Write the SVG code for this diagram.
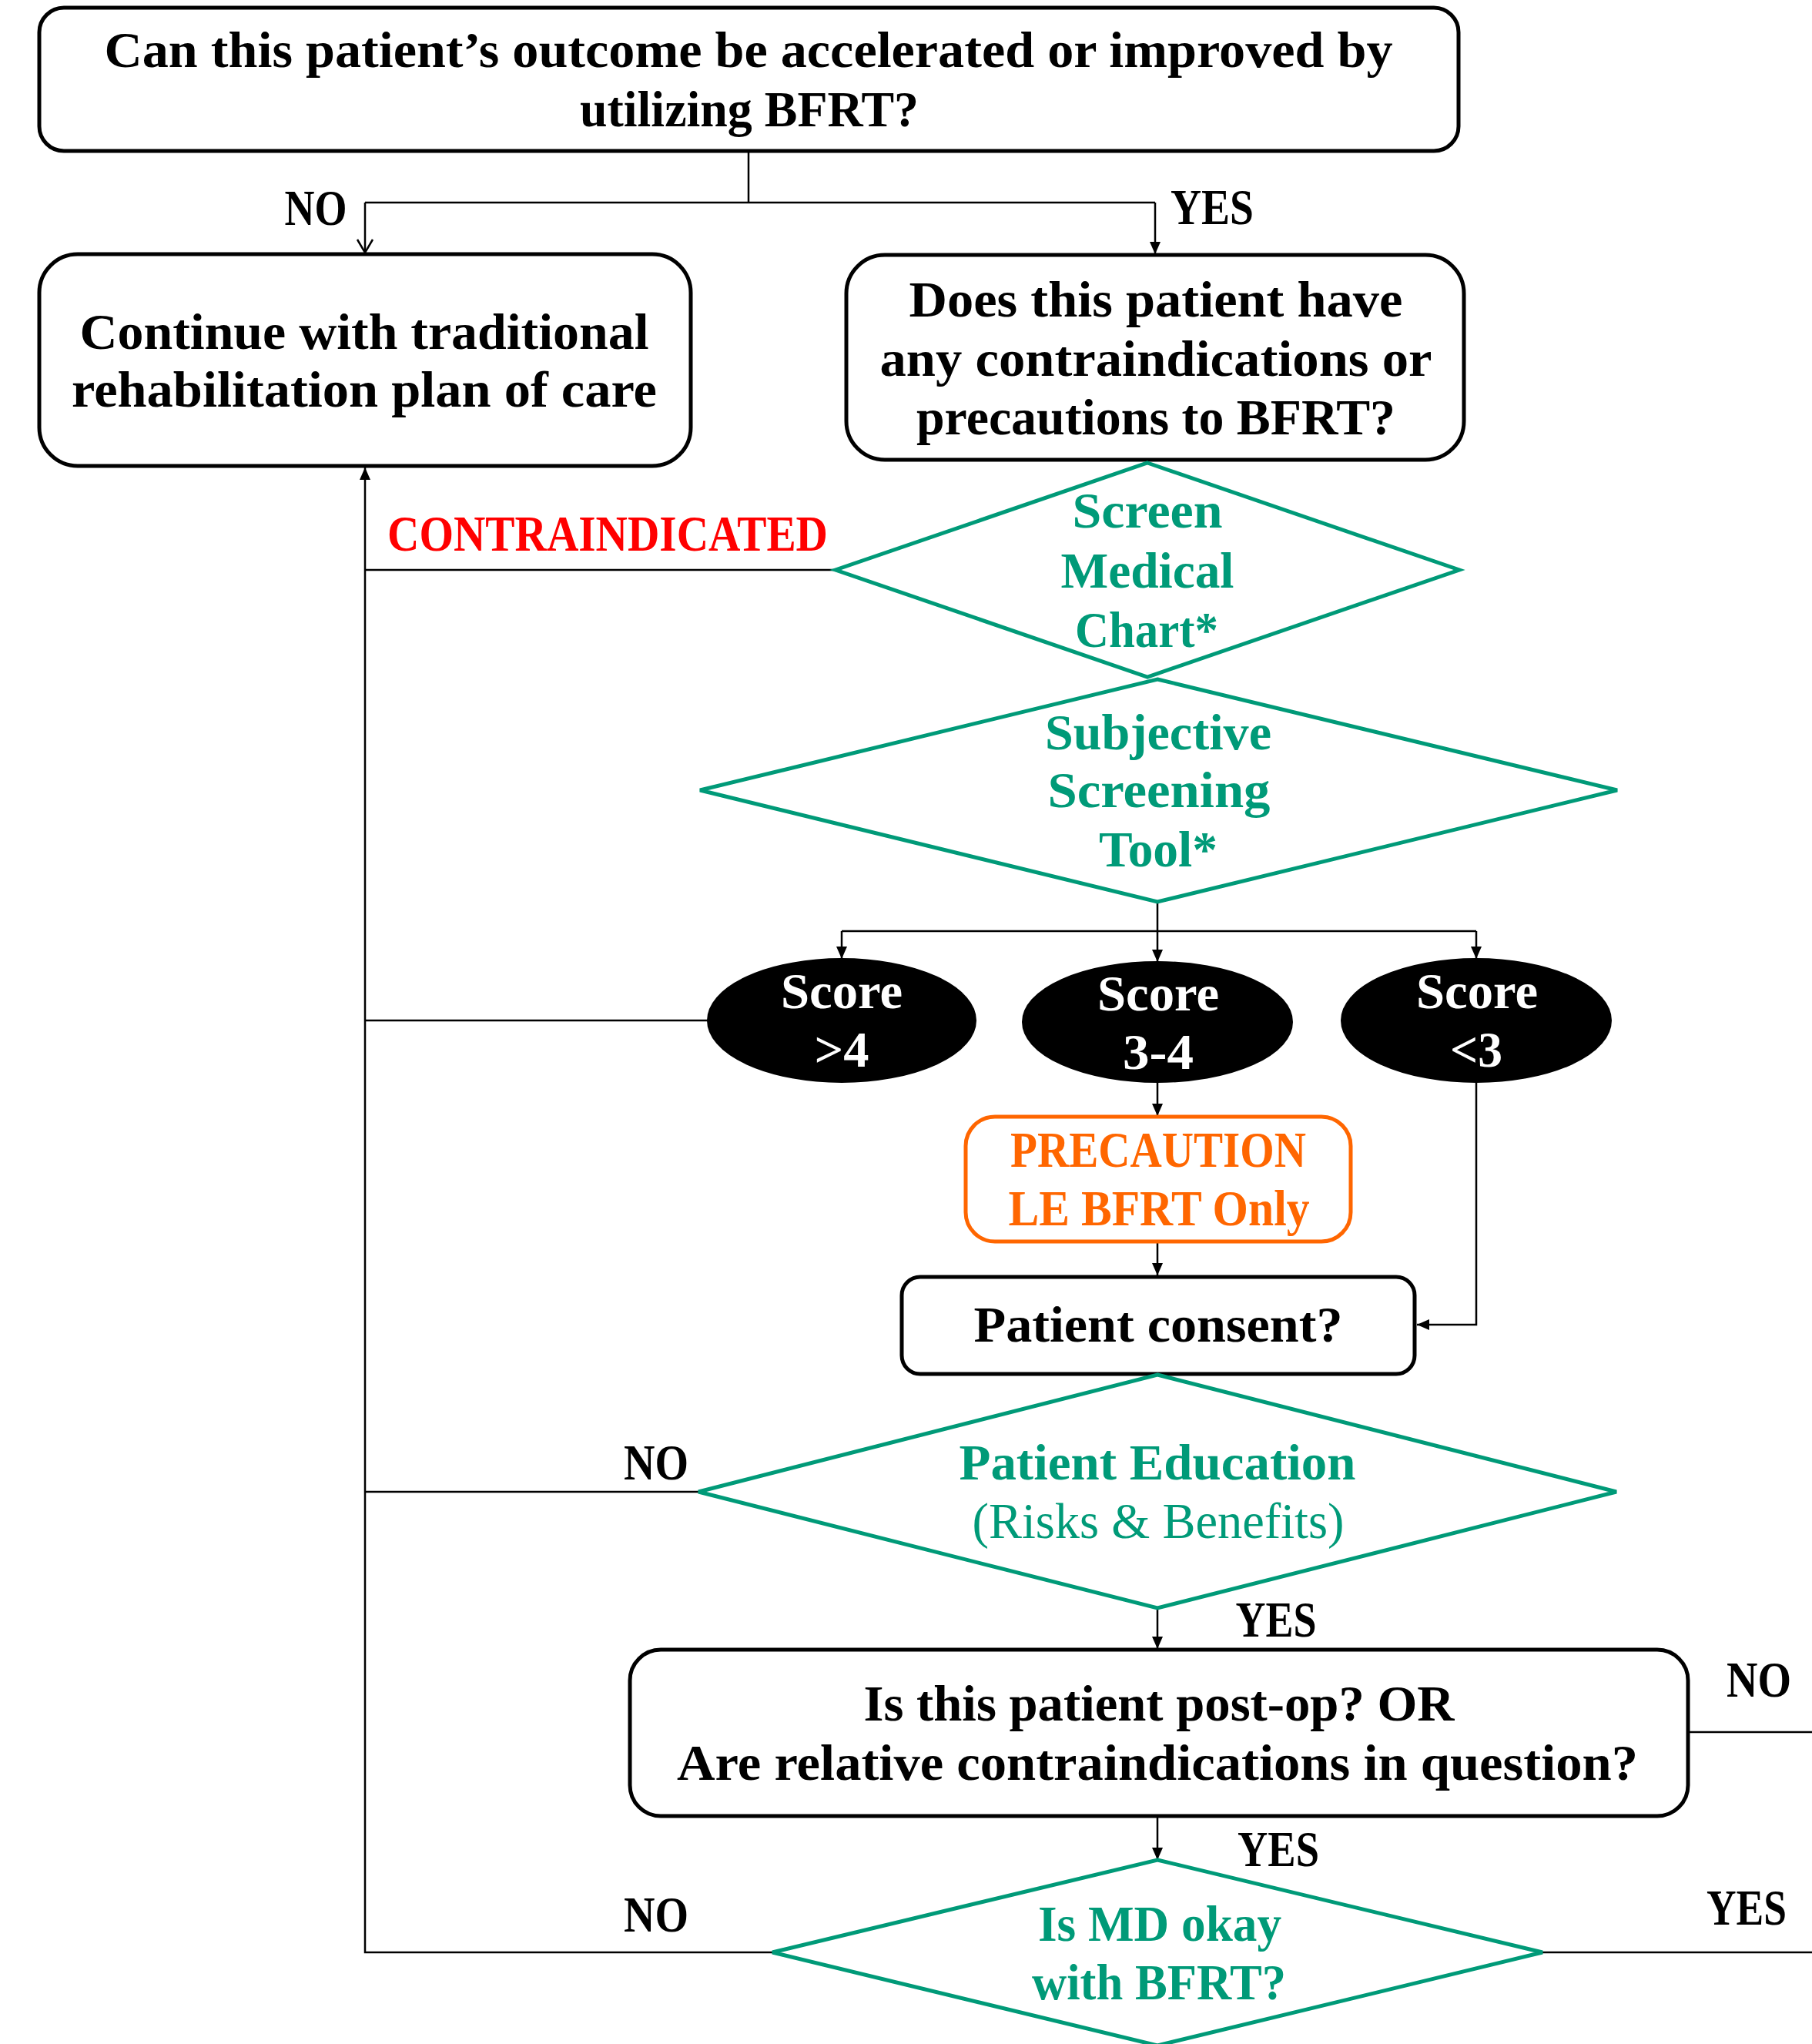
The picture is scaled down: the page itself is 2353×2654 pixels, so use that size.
<svg xmlns="http://www.w3.org/2000/svg" width="2353" height="2654" viewBox="0 0 2353 2654">
<defs>
<marker id="arr" markerUnits="userSpaceOnUse" markerWidth="16" markerHeight="16" viewBox="0 0 16 16" refX="16" refY="8" orient="auto">
<path d="M0,1 L16,8 L0,15 Z" fill="#000"/>
</marker>
<marker id="open" markerUnits="userSpaceOnUse" markerWidth="20" markerHeight="24" viewBox="0 0 20 24" refX="18" refY="12" orient="auto">
<path d="M1,2 L18,12 L1,22" fill="none" stroke="#000" stroke-width="2.5"/>
</marker>
<style>
text{font-family:"Liberation Serif","Times New Roman",serif;font-weight:bold;font-size:66px;text-anchor:middle}
.box{fill:#fff;stroke:#000;stroke-width:5}
.dia{fill:#fff;stroke:#009a78;stroke-width:5}
.ell{fill:#000;stroke:#000;stroke-width:2}
.g{fill:#009a78}
.w{fill:#fff}
.k{fill:#000}
.o{fill:#ff6600}
.r{fill:#ff0000}
.reg{font-weight:normal}
.conn path{fill:none;stroke:#000;stroke-width:2.5}
</style>
</defs>

<g class="conn" id="connectors">
<path d="M972,196 V263"/>
<path d="M474,263 H1500"/>
<path d="M474,263 V328" marker-end="url(#open)"/>
<path d="M1500,263 V330" marker-end="url(#arr)"/>
<path d="M1085,740 H474"/>
<path d="M919,1325 H474"/>
<path d="M907,1937 H474"/>
<path d="M1003,2535 H474 V607" marker-end="url(#arr)"/>
<path d="M1503,1171 V1249" marker-end="url(#arr)"/>
<path d="M1093,1209 H1917"/>
<path d="M1093,1209 V1245" marker-end="url(#arr)"/>
<path d="M1917,1209 V1245" marker-end="url(#arr)"/>
<path d="M1503,1405 V1449" marker-end="url(#arr)"/>
<path d="M1503,1612 V1656" marker-end="url(#arr)"/>
<path d="M1917,1405 V1720 H1840" marker-end="url(#arr)"/>
<path d="M1503,2088 V2141" marker-end="url(#arr)"/>
<path d="M1503,2359 V2415" marker-end="url(#arr)"/>
<path d="M2192,2249 H2353"/>
<path d="M2003,2535 H2353"/>
</g>

<g id="labels">
<text class="k" x="410" y="292" textLength="81" lengthAdjust="spacingAndGlyphs">NO</text>
<text class="k" x="1574" y="291" textLength="108" lengthAdjust="spacingAndGlyphs">YES</text>
<text class="r" x="789" y="715" textLength="572" lengthAdjust="spacingAndGlyphs">CONTRAINDICATED</text>
<text class="k" x="852" y="1921" textLength="84" lengthAdjust="spacingAndGlyphs">NO</text>
<text class="k" x="1657" y="2125" textLength="105" lengthAdjust="spacingAndGlyphs">YES</text>
<text class="k" x="2284" y="2203" textLength="84" lengthAdjust="spacingAndGlyphs">NO</text>
<text class="k" x="1660" y="2423" textLength="106" lengthAdjust="spacingAndGlyphs">YES</text>
<text class="k" x="852" y="2508" textLength="84" lengthAdjust="spacingAndGlyphs">NO</text>
<text class="k" x="2268" y="2499" textLength="104" lengthAdjust="spacingAndGlyphs">YES</text>
</g>

<g id="q-outcome">
<rect class="box" x="51" y="10" width="1843" height="186" rx="32"/>
<text class="k" x="972" y="87" textLength="1673" lengthAdjust="spacingAndGlyphs">Can this patient’s outcome be accelerated or improved by</text>
<text class="k" x="973" y="164" textLength="440" lengthAdjust="spacingAndGlyphs">utilizing BFRT?</text>
</g>

<g id="traditional">
<rect class="box" x="51" y="330" width="846" height="275" rx="50"/>
<text class="k" x="473" y="453" textLength="739" lengthAdjust="spacingAndGlyphs">Continue with traditional</text>
<text class="k" x="473" y="528" textLength="760" lengthAdjust="spacingAndGlyphs">rehabilitation plan of care</text>
</g>

<g id="q-contra">
<rect class="box" x="1099" y="331" width="802" height="266" rx="50"/>
<text class="k" x="1501" y="411" textLength="641" lengthAdjust="spacingAndGlyphs">Does this patient have</text>
<text class="k" x="1501" y="488" textLength="717" lengthAdjust="spacingAndGlyphs">any contraindications or</text>
<text class="k" x="1501" y="564" textLength="622" lengthAdjust="spacingAndGlyphs">precautions to BFRT?</text>
</g>

<g id="screen-chart">
<polygon class="dia" points="1490,601 1895,740 1490,879 1085,740"/>
<text class="g" x="1490" y="685" textLength="195" lengthAdjust="spacingAndGlyphs">Screen</text>
<text class="g" x="1490" y="763" textLength="225" lengthAdjust="spacingAndGlyphs">Medical</text>
<text class="g" x="1489" y="840" textLength="186" lengthAdjust="spacingAndGlyphs">Chart*</text>
</g>

<g id="subjective-tool">
<polygon class="dia" points="1503,882 2100,1026 1503,1171 909,1026"/>
<text class="g" x="1504" y="973" textLength="294" lengthAdjust="spacingAndGlyphs">Subjective</text>
<text class="g" x="1505" y="1048" textLength="289" lengthAdjust="spacingAndGlyphs">Screening</text>
<text class="g" x="1504" y="1125" textLength="154" lengthAdjust="spacingAndGlyphs">Tool*</text>
</g>

<g id="score-gt4">
<ellipse class="ell" cx="1093" cy="1325" rx="174" ry="80"/>
<text class="w" x="1093" y="1309" textLength="158" lengthAdjust="spacingAndGlyphs">Score</text>
<text class="w" x="1093" y="1385" textLength="71" lengthAdjust="spacingAndGlyphs">&gt;4</text>
</g>

<g id="score-3-4">
<ellipse class="ell" cx="1503" cy="1327" rx="175" ry="78"/>
<text class="w" x="1504" y="1312" textLength="158" lengthAdjust="spacingAndGlyphs">Score</text>
<text class="w" x="1504" y="1388" textLength="92" lengthAdjust="spacingAndGlyphs">3-4</text>
</g>

<g id="score-lt3">
<ellipse class="ell" cx="1917" cy="1325" rx="175" ry="80"/>
<text class="w" x="1918" y="1309" textLength="158" lengthAdjust="spacingAndGlyphs">Score</text>
<text class="w" x="1917" y="1385" textLength="68" lengthAdjust="spacingAndGlyphs">&lt;3</text>
</g>

<g id="precaution">
<rect x="1254" y="1450" width="500" height="162" rx="38" fill="#fff" stroke="#ff6600" stroke-width="5"/>
<text class="o" x="1504" y="1515" textLength="384" lengthAdjust="spacingAndGlyphs">PRECAUTION</text>
<text class="o" x="1505" y="1591" textLength="391" lengthAdjust="spacingAndGlyphs">LE BFRT Only</text>
</g>

<g id="consent">
<rect class="box" x="1171" y="1658" width="666" height="126" rx="24"/>
<text class="k" x="1504" y="1742" textLength="479" lengthAdjust="spacingAndGlyphs">Patient consent?</text>
</g>

<g id="education">
<polygon class="dia" points="1503,1785 2099,1937 1503,2088 907,1937"/>
<text class="g" x="1503" y="1921" textLength="515" lengthAdjust="spacingAndGlyphs">Patient Education</text>
<text class="g reg" x="1504" y="1997" textLength="483" lengthAdjust="spacingAndGlyphs">(Risks &amp; Benefits)</text>
</g>

<g id="q-postop">
<rect class="box" x="818" y="2142" width="1374" height="216" rx="40"/>
<text class="k" x="1505" y="2234" textLength="767" lengthAdjust="spacingAndGlyphs">Is this patient post-op? OR</text>
<text class="k" x="1503" y="2311" textLength="1248" lengthAdjust="spacingAndGlyphs">Are relative contraindications in question?</text>
</g>

<g id="q-md">
<polygon class="dia" points="1503,2415 2003,2535 1503,2656 1003,2535"/>
<text class="g" x="1506" y="2520" textLength="316" lengthAdjust="spacingAndGlyphs">Is MD okay</text>
<text class="g" x="1505" y="2596" textLength="330" lengthAdjust="spacingAndGlyphs">with BFRT?</text>
</g>
</svg>
